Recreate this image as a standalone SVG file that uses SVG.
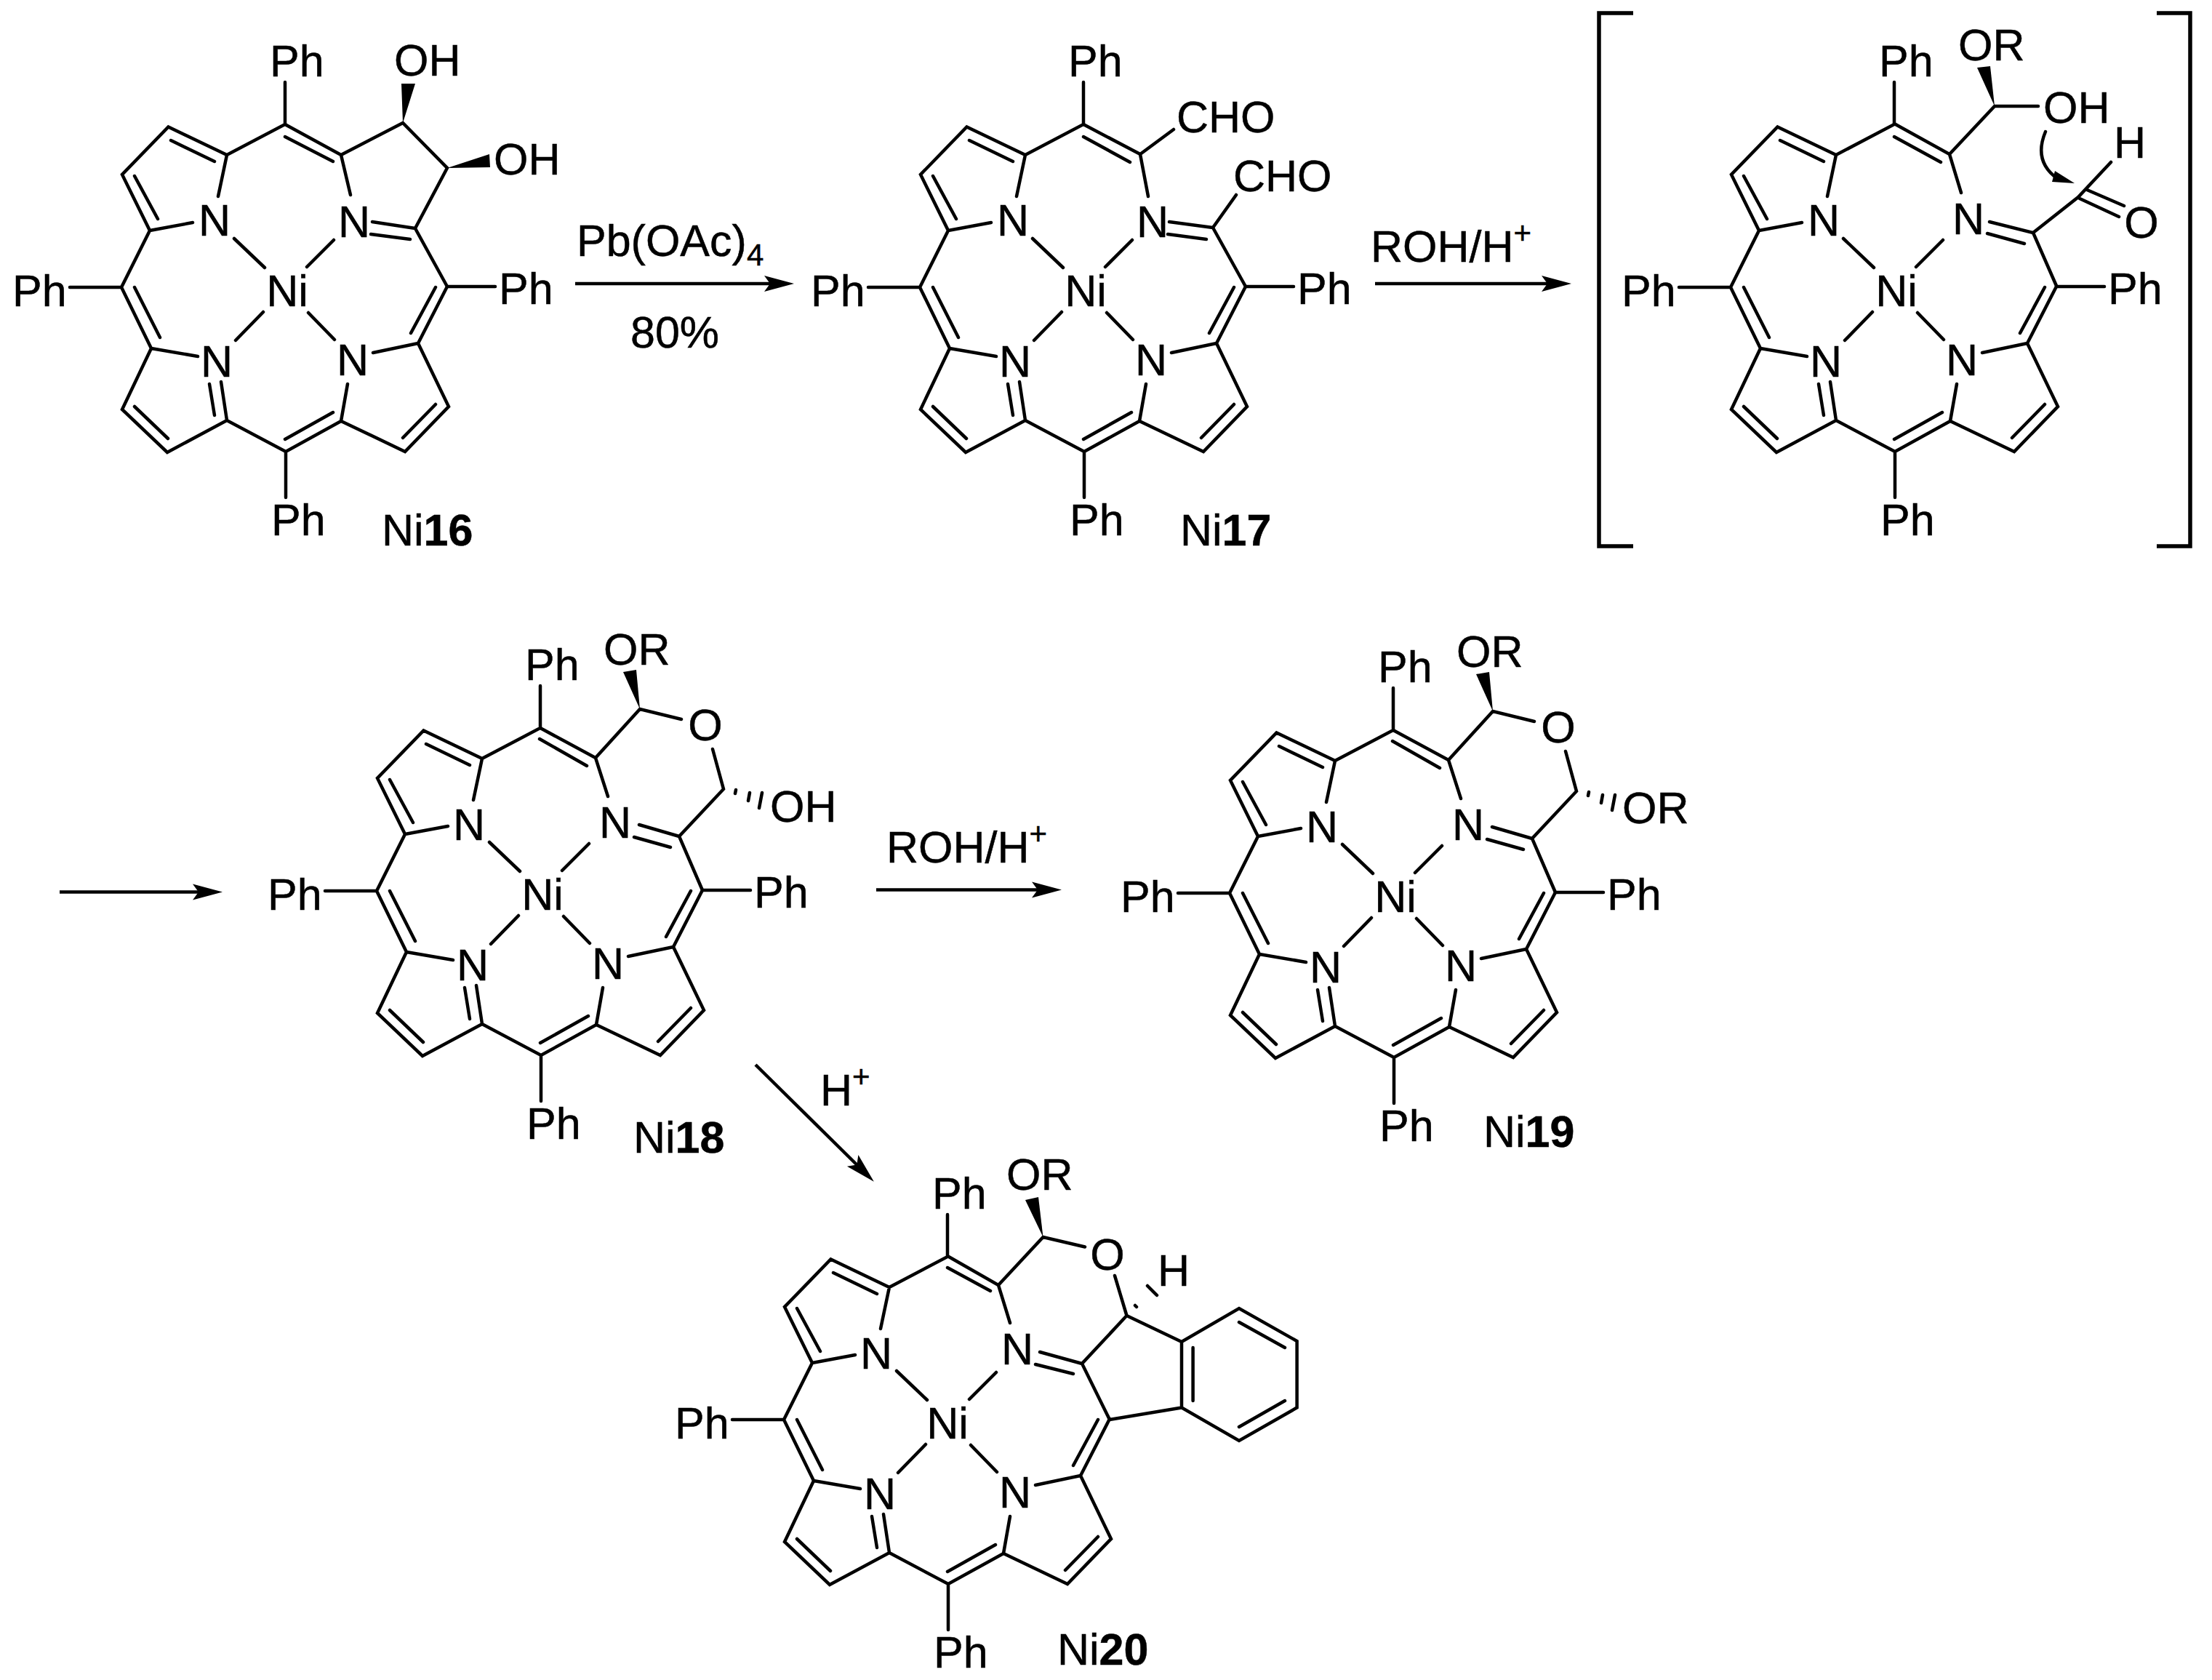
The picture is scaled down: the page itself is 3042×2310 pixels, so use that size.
<svg xmlns="http://www.w3.org/2000/svg" width="3042" height="2310" viewBox="0 0 3042 2310">
<style>
text{font-family:"Liberation Sans",Arial,sans-serif;font-size:61px;fill:#000;stroke:#000;stroke-width:.5}
.m{text-anchor:middle}
.b{font-weight:bold}
.s{font-size:42px}
.bond{fill:none;stroke:#000;stroke-width:4.500;stroke-linecap:round;stroke-linejoin:miter}
.arr{fill:none;stroke:#000;stroke-width:4.500;marker-end:url(#head)}
.w{fill:#000;stroke:none}
.brk{fill:none;stroke:#000;stroke-width:5.500}
</style>
<defs>
<marker id="head" markerUnits="userSpaceOnUse" markerWidth="42" markerHeight="24" viewBox="0 0 42 24" refX="30" refY="12" orient="auto">
<path d="M0 1L41 12L0 23L8 12Z" fill="#000"/>
</marker>
<path id="core" class="bond" d="M392 113V171L312 213L231.5 174.5L168 240L206 317L167 395L208 479L168 563L230 622L312 578L393 621L469 579L557 621L617 559L575 472L615 394M300 270L312 213M206 317L265 306M235 193L295 222M185 242L217 301M96 395H167M185 395L220 464M208 479L272 490M312 578L304 525M288 528L295 571M185 559L231 603M392 604L458 567M469 579L478 528M575 472L513 485M554 602L599 556M599 395L565 458M393 621V684M322 328L364 368M459 330L422 367M362 429L324 468M424 430L460 467"/>
<path id="ph-right" class="bond" d="M615 394H681"/>
<g id="oxring">
<path class="bond" d="M392 171L468 212L485 265M391 186L456 223M468 212L529 145L586 159M629 200L644 255L583 320L615 394M528 304L583 320M521 321L571 335M661 256L660 261M680 260L678 271M697 260L693 281"/>
<path class="w" d="M529 145L506 94L524 91Z"/>
</g>
</defs>
<rect width="3042" height="2310" fill="#fff"/>

<g id="connectors">
<path class="arr" d="M791 390H1081"/>
<path class="arr" d="M1891 390H2150"/>
<path class="arr" d="M82 1226.500H295"/>
<path class="arr" d="M1205 1223.500H1449"/>
<path class="arr" d="M1039 1464L1194 1617"/>
<path class="bond" d="M2813 181C2803 205 2804 228 2830 246"/>
<path class="w" d="M2853 252L2822 250L2826 235Z"/>
</g>

<g id="mol16">
<use href="#core"/><use href="#ph-right"/>
<text x="371" y="105">Ph</text><text x="17" y="421">Ph</text><text x="686" y="418">Ph</text><text x="373" y="736">Ph</text>
<text class="m" x="295" y="324">N</text><text class="m" x="487" y="326">N</text><text class="m" x="298" y="518">N</text><text class="m" x="485" y="516">N</text>
<text class="m" x="395" y="421">Ni</text>
<path class="bond" d="M392 171L469 213L482 268M392 188L458 222M469 213L554 169L615 231L571 314L615 394M512 305L571 314M510 322L564 329"/>
<path class="w" d="M554 169L552 115L571 115ZM615 231L673 212L674 230Z"/>
<text x="542" y="104">OH</text><text x="679" y="240">OH</text>
<text x="525" y="750">Ni<tspan class="b">16</tspan></text>
</g>

<g id="reagent1"><text x="793" y="352">Pb(OAc)<tspan class="s" dy="13">4</tspan></text><text x="867" y="478">80%</text></g>

<g id="mol17">
<g transform="translate(1098 0)">
<use href="#core"/><use href="#ph-right"/>
<text x="371" y="105">Ph</text><text x="17" y="421">Ph</text><text x="686" y="418">Ph</text><text x="373" y="736">Ph</text>
<text class="m" x="295" y="324">N</text><text class="m" x="487" y="326">N</text><text class="m" x="298" y="518">N</text><text class="m" x="485" y="516">N</text>
<text class="m" x="395" y="421">Ni</text>
<path class="bond" d="M392 171L470 212L481 270M392 188L456 223M470 212L516 178M570 313L615 394M570 313L602 268M510 305L570 313M508 322L561 329"/>
</g>
<text x="1618" y="182">CHO</text><text x="1696" y="263">CHO</text>
<text x="1623" y="750">Ni<tspan class="b">17</tspan></text>
</g>

<g id="reagent2"><text x="1885" y="360">ROH/H<tspan class="s" dy="-25">+</tspan></text></g>

<g id="mol-intermediate">
<g transform="translate(2213 0)">
<use href="#core"/><use href="#ph-right"/>
<text x="371" y="105">Ph</text><text x="17" y="421">Ph</text><text x="686" y="418">Ph</text><text x="373" y="736">Ph</text>
<text class="m" x="295" y="324">N</text><text class="m" x="494" y="322">N</text><text class="m" x="298" y="518">N</text><text class="m" x="485" y="516">N</text>
<text class="m" x="395" y="421">Ni</text>
<path class="bond" d="M392 170L468 212L484 265M392 188L456 223M468 212L530 146H590M583 320L615 393M583 320L645 271L690 223M657 261L708 283M647 273L701 298M523 305L583 320M520 321L571 335"/>
<path class="w" d="M530 146L506 93L524 91Z"/>
</g>
<text x="2693" y="83">OR</text><text x="2810" y="169">OH</text><text x="2907" y="217">H</text><text class="m" x="2945" y="327">O</text>
</g>
<path id="bracket-left" class="brk" d="M2246 18H2199V751H2246"/>
<path id="bracket-right" class="brk" d="M2966 18H3012V751H2966"/>

<g id="mol18">
<g transform="translate(351 830)">
<use href="#core"/><use href="#ph-right"/><use href="#oxring"/>
<text x="371" y="105">Ph</text><text x="17" y="421">Ph</text><text x="686" y="418">Ph</text><text x="373" y="736">Ph</text>
<text class="m" x="294" y="325">N</text><text class="m" x="495" y="322">N</text><text class="m" x="299" y="518">N</text><text class="m" x="485" y="516">N</text>
<text class="m" x="395" y="421">Ni</text>
<text x="479" y="84">OR</text><text class="m" x="619" y="188">O</text><text x="708" y="300">OH</text>
<text x="520" y="755">Ni<tspan class="b">18</tspan></text>
</g>
</g>

<g id="reagent3"><text x="1219" y="1186">ROH/H<tspan class="s" dy="-25">+</tspan></text></g>

<g id="mol19">
<g transform="translate(1524 833)">
<use href="#core"/><use href="#ph-right"/><use href="#oxring"/>
<text x="371" y="105">Ph</text><text x="17" y="421">Ph</text><text x="686" y="418">Ph</text><text x="373" y="736">Ph</text>
<text class="m" x="294" y="325">N</text><text class="m" x="495" y="322">N</text><text class="m" x="299" y="518">N</text><text class="m" x="485" y="516">N</text>
<text class="m" x="395" y="421">Ni</text>
<text x="479" y="84">OR</text><text class="m" x="619" y="188">O</text><text x="707" y="299">OR</text>
<text x="516" y="744">Ni<tspan class="b">19</tspan></text>
</g>
</g>

<g id="reagent4"><text x="1128" y="1520">H<tspan class="s" dy="-25">+</tspan></text></g>

<g id="mol20">
<g transform="translate(911 1557)">
<use href="#core"/>
<text x="371" y="105">Ph</text><text x="17" y="421">Ph</text><text x="373" y="736">Ph</text>
<text class="m" x="294" y="325">N</text><text class="m" x="488" y="319">N</text><text class="m" x="299" y="518">N</text><text class="m" x="485" y="516">N</text>
<text class="m" x="392" y="421">Ni</text>
</g>
<path class="bond" d="M1303 1727L1373 1767L1389 1819M1303 1743L1362 1775M1373 1767L1434.500 1701L1492 1714.500M1533 1754L1549.500 1809L1488 1875L1526 1952L1625 1935.500M1549.500 1809L1625 1845L1704 1799L1783.600 1844V1935.500L1704 1981L1625 1935.500V1845M1640.600 1853V1926M1704 1818L1767 1853M1767 1926L1704 1962M1430 1859L1488 1875M1424 1876L1476 1889M1561 1795L1563 1797M1578 1768L1591 1781"/>
<path class="w" d="M1434.500 1701L1410 1650L1428 1646Z"/>
<text x="1384" y="1636">OR</text><text class="m" x="1523" y="1746">O</text><text x="1592" y="1768">H</text>
<text x="1454" y="2289">Ni<tspan class="b">20</tspan></text>
</g>
</svg>
